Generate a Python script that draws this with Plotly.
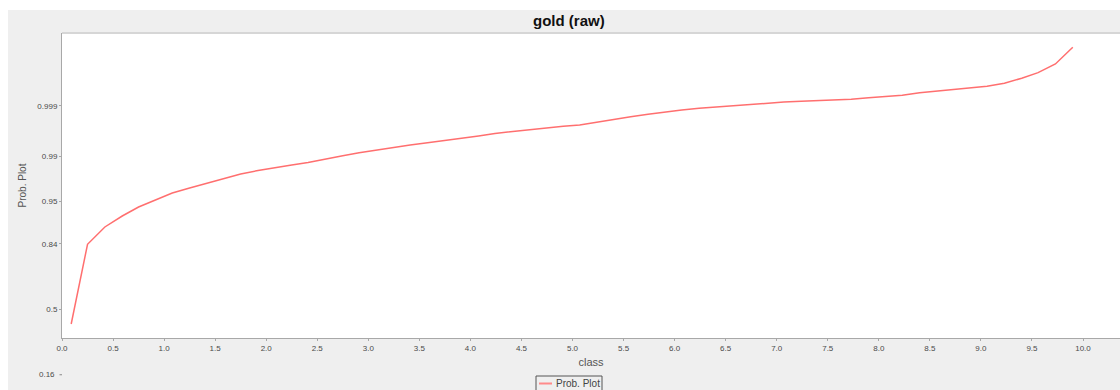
import plotly.graph_objects as go

# Class midpoints (x) and normal-score (probit) values of the cumulative proportion (y)
class_mid = [0.09, 0.25, 0.42, 0.59, 0.75, 0.92, 1.08, 1.25, 1.42, 1.58,
             1.75, 1.92, 2.08, 2.25, 2.41, 2.58, 2.75, 2.91, 3.08, 3.24,
             3.41, 3.58, 3.74, 3.91, 4.08, 4.24, 4.41, 4.58, 4.74, 4.91,
             5.07, 5.24, 5.41, 5.57, 5.74, 5.91, 6.07, 6.24, 6.40, 6.57,
             6.74, 6.90, 7.07, 7.24, 7.40, 7.57, 7.73, 7.90, 8.07, 8.23,
             8.40, 8.57, 8.73, 8.90, 9.06, 9.23, 9.40, 9.56, 9.73, 9.90]
prob_z = [-0.223, 0.988, 1.251, 1.418, 1.555, 1.669, 1.767, 1.843, 1.912, 1.988,
          2.056, 2.109, 2.155, 2.193, 2.231, 2.287, 2.333, 2.378, 2.421, 2.464,
          2.497, 2.530, 2.561, 2.596, 2.634, 2.672, 2.702, 2.733, 2.763, 2.783,
          2.801, 2.846, 2.888, 2.927, 2.964, 2.999, 3.029, 3.055, 3.074, 3.097,
          3.115, 3.138, 3.150, 3.161, 3.169, 3.176, 3.192, 3.214, 3.236, 3.252,
          3.290, 3.314, 3.337, 3.359, 3.389, 3.436, 3.512, 3.596, 3.728, 3.982]

# Probability tick labels placed at their normal quantiles
prob_tick_z = [0.0, 0.9945, 1.6449, 2.3263, 3.0902]
prob_tick_text = ["0.5", "0.84", "0.95", "0.99", "0.999"]
low_tick_z = -0.9945
low_tick_text = "0.16"

W, H = 1120, 390
L, R, T, B = 62, 0, 33, 52
pw, ph = W - L - R, H - T - B
Y_MIN, Y_MAX = -0.436, 4.199

def px_x(p):
    return (p - L) / pw

def px_y(p):
    return (H - B - p) / ph

def z_to_paper(z):
    return (z - Y_MIN) / (Y_MAX - Y_MIN)

line_color = "#ff6f6f"
axis_color = "#a8a8a8"
tick_font = dict(family="Liberation Sans, Arial, sans-serif", size=8, color="#4a4a4a")

fig = go.Figure()
fig.add_trace(go.Scatter(
    x=class_mid, y=prob_z, mode="lines", name="Prob. Plot",
    line=dict(color=line_color, width=1.5), showlegend=False,
))

fig.update_layout(
    width=W, height=H,
    margin=dict(l=L, r=R, t=T, b=B, autoexpand=False),
    paper_bgcolor="#efefef",
    plot_bgcolor="#ffffff",
    font=dict(family="Liberation Sans, Arial, sans-serif", color="#444444"),
    xaxis=dict(
        range=[0, (W - L - R) / 102.1], dtick=0.5, tick0=0, tickformat=".1f",
        showgrid=False, zeroline=False, showline=True, linecolor=axis_color, linewidth=1,
        ticks="outside", ticklen=2, tickcolor=axis_color, tickfont=tick_font,
        title=dict(text="class", font=dict(size=11, color="#555555"), standoff=6),
    ),
    yaxis=dict(
        range=[Y_MIN, Y_MAX], tickvals=prob_tick_z, ticktext=prob_tick_text,
        showgrid=False, zeroline=False, showline=True, linecolor=axis_color, linewidth=1,
        ticks="outside", ticklen=2, tickcolor=axis_color, tickfont=tick_font,
        title=dict(text="Prob. Plot", font=dict(size=10, color="#555555"), standoff=8),
    ),
    showlegend=False,
)

low_y = z_to_paper(low_tick_z)
shapes = [
    # white margins around the chart panel
    dict(type="rect", xref="paper", yref="paper", x0=px_x(0), x1=px_x(8), y0=px_y(H), y1=px_y(0),
         fillcolor="#ffffff", line=dict(width=0), layer="above"),
    dict(type="rect", xref="paper", yref="paper", x0=px_x(0), x1=px_x(W), y0=px_y(10), y1=px_y(0),
         fillcolor="#ffffff", line=dict(width=0), layer="above"),
    # plot outline top edge
    dict(type="line", xref="paper", yref="paper", x0=0, x1=1, y0=1, y1=1,
         line=dict(color="#d6d6d6", width=2), layer="above"),
    # stray tick below the axis
    dict(type="line", xref="paper", yref="paper", x0=px_x(59.5), x1=px_x(62), y0=low_y, y1=low_y,
         line=dict(color="#888888", width=1)),
    # legend sample line
    dict(type="line", xref="paper", yref="paper", x0=px_x(539), x1=px_x(552),
         y0=px_y(383.5), y1=px_y(383.5), line=dict(color="#ff8a8a", width=2)),
    # legend box
    dict(type="rect", xref="paper", yref="paper", x0=px_x(536), x1=px_x(602),
         y0=px_y(392), y1=px_y(376), line=dict(color="#555555", width=1), fillcolor="rgba(0,0,0,0)"),
]
fig.update_layout(shapes=shapes)

fig.add_annotation(text="<b>gold (raw)</b>", xref="paper", yref="paper",
                   x=px_x(569), y=px_y(20), xanchor="center", yanchor="middle",
                   showarrow=False, font=dict(size=15, color="#111111"))
fig.add_annotation(text=low_tick_text, xref="paper", yref="paper", x=px_x(57), y=low_y,
                   xanchor="right", yanchor="middle", showarrow=False, font=tick_font)
fig.add_annotation(text="Prob. Plot", xref="paper", yref="paper", x=px_x(554), y=px_y(383.5),
                   xanchor="left", yanchor="middle", showarrow=False,
                   font=dict(size=10, color="#444444"))

fig.write_html("out.html")
